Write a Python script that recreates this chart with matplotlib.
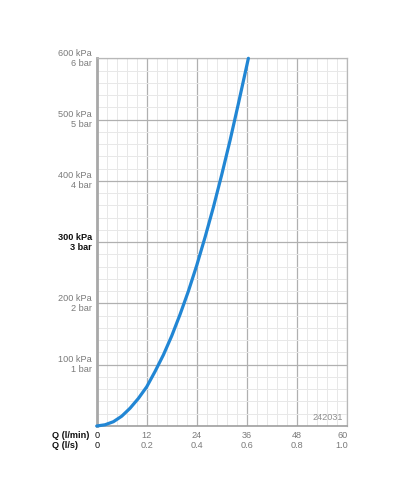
import matplotlib.pyplot as plt
import numpy as np

plt.rcParams['font.family'] = ['Liberation Sans', 'DejaVu Sans']

# flow (l/min) and pressure (kPa)
flow_lmin = [0, 2, 4, 6, 8, 10, 12, 14, 16, 18, 20, 22, 24, 26, 28, 30, 32, 34, 36.4]
pressure_kpa = [0, 2, 7, 16, 29, 45, 64, 89, 116, 147, 182, 220, 262, 308, 357, 410, 466, 526, 600]

x_ticks_lmin = [0, 12, 24, 36, 48, 60]
x_labels_lmin = ["0", "12", "24", "36", "48", "60"]
x_labels_ls = ["0", "0.2", "0.4", "0.6", "0.8", "1.0"]
y_ticks = [100, 200, 300, 400, 500, 600]
y_labels = [("100 kPa", "1 bar"), ("200 kPa", "2 bar"), ("300 kPa", "3 bar"),
            ("400 kPa", "4 bar"), ("500 kPa", "5 bar"), ("600 kPa", "6 bar")]
code = "242031"

gray = "#7a7a7a"
fs = 6.6
fig = plt.figure(figsize=(4, 5), dpi=100)
ax = fig.add_axes([0.2418, 0.148, 0.625, 0.7354])
ax.set_xlim(0, 60)
ax.set_ylim(0, 600)

# grid
ax.set_xticks(np.arange(0, 61, 12))
ax.set_xticks(np.arange(0, 61, 2.4), minor=True)
ax.set_yticks(np.arange(0, 601, 100))
ax.set_yticks(np.arange(0, 601, 20), minor=True)
ax.grid(which="minor", color="#e8e8e8", linewidth=0.7)
ax.grid(which="major", color="#b0b0b0", linewidth=0.9)
ax.set_axisbelow(True)
ax.tick_params(which="both", length=0, labelbottom=False, labelleft=False)
for s in ["top", "right"]:
    ax.spines[s].set_color("#b8b8b8")
    ax.spines[s].set_linewidth(0.9)
ax.spines["left"].set_color("#a8a8a8")
ax.spines["left"].set_linewidth(2)
ax.spines["bottom"].set_color("#a0a0a0")
ax.spines["bottom"].set_linewidth(1.2)

ax.plot(flow_lmin, pressure_kpa, color="#2186d4", linewidth=2.3,
        solid_capstyle="round", clip_on=False, zorder=5)

# y labels
for yv, (kpa, bar) in zip(y_ticks, y_labels):
    bold = yv == 300
    c = "#111111" if bold else gray
    fw = "bold" if bold else "normal"
    ax.annotate(kpa, (0, yv), xytext=(-5, 5), textcoords="offset pixels",
                ha="right", va="center", fontsize=fs, color=c, fontweight=fw)
    ax.annotate(bar, (0, yv), xytext=(-5, -5), textcoords="offset pixels",
                ha="right", va="center", fontsize=fs, color=c, fontweight=fw)

# x labels, two rows
for i, (xv, l1, l2) in enumerate(zip(x_ticks_lmin, x_labels_lmin, x_labels_ls)):
    ha = "right" if i == len(x_ticks_lmin) - 1 else "center"
    dx = 1 if ha == "right" else 0
    c = "#111111" if i == 0 else gray
    ax.annotate(l1, (xv, 0), xytext=(dx, -9), textcoords="offset pixels",
                ha=ha, va="center", fontsize=fs, color=c)
    ax.annotate(l2, (xv, 0), xytext=(dx, -20), textcoords="offset pixels",
                ha=ha, va="center", fontsize=fs, color=c)
ax.annotate("Q (l/min)", (0, 0), xytext=(-45, -9), textcoords="offset pixels",
            ha="left", va="center", fontsize=fs, fontweight="bold", color="#111111")
ax.annotate("Q (l/s)", (0, 0), xytext=(-45, -20), textcoords="offset pixels",
            ha="left", va="center", fontsize=fs, fontweight="bold", color="#111111")

ax.text(0.985, 0.012, code, transform=ax.transAxes, ha="right", va="bottom",
        fontsize=fs, color="#909090")

fig.savefig("out.png", dpi=100)
